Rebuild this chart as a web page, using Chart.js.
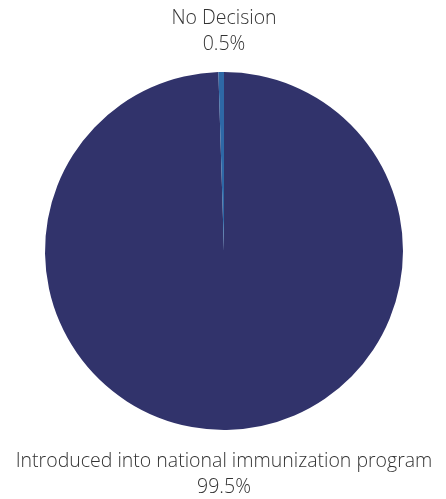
<!DOCTYPE html>
<html>
<head>
<meta charset="utf-8">
<script src="https://cdn.jsdelivr.net/npm/chart.js@4/dist/chart.umd.min.js"></script>
<style>
html,body{margin:0;padding:0;background:#fff;}
#wrap{width:446px;height:499px;position:relative;}
</style>
</head>
<body>
<div id="wrap"><canvas id="c" width="446" height="499"></canvas></div>
<script>
const categories = ["Introduced into national immunization program", "No Decision"];
const values = [99.5, 0.5];
const valueLabels = ["99.5%", "0.5%"];
const colors = ["#31336b", "#2e68a6"];

const labelPlugin = {
  id: 'outLabels',
  afterDatasetsDraw(chart) {
    const ctx = chart.ctx;
    const meta = chart.getDatasetMeta(0);
    ctx.save();
    ctx.font = '300 19.5px "Open Sans"';
    ctx.fillStyle = '#333333';
    ctx.textAlign = 'center';
    ctx.textBaseline = 'alphabetic';
    meta.data.forEach((arc, i) => {
      const mid = (arc.startAngle + arc.endAngle) / 2;
      const r = arc.outerRadius;
      const cx = arc.x, cy = arc.y;
      const up = Math.sin(mid) < 0;
      if (up) {
        const yBase = cy - r - 22;
        ctx.fillText(categories[i], cx, yBase - 26);
        ctx.fillText(valueLabels[i], cx, yBase);
      } else {
        const yTop = cy + r + 37;
        ctx.fillText(categories[i], cx, yTop);
        ctx.fillText(valueLabels[i], cx, yTop + 26);
      }
    });
    ctx.restore();
  }
};

new Chart(document.getElementById('c'), {
  type: 'pie',
  data: {
    labels: categories,
    datasets: [{
      data: values,
      backgroundColor: colors,
      borderWidth: 0
    }]
  },
  options: {
    responsive: false,
    animation: false,
    layout: { padding: { top: 72, bottom: 69, left: 2, right: 0 } },
    plugins: { legend: { display: false }, tooltip: { enabled: false } }
  },
  plugins: [labelPlugin]
});
</script>
</body>
</html>
